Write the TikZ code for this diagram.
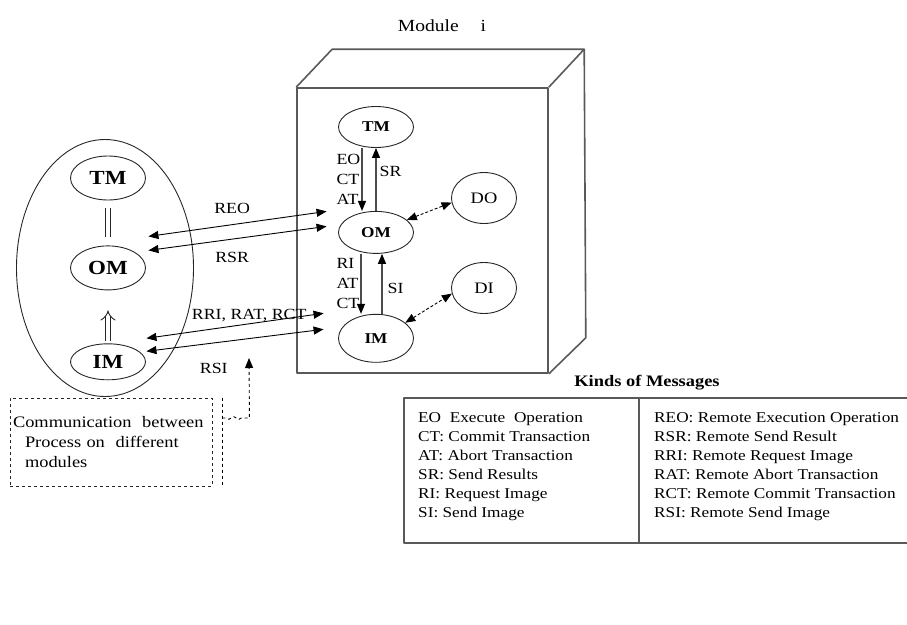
\documentclass[tikz,border=0pt]{standalone}
\usepackage{fontspec}
\setmainfont{Liberation Serif}[FakeStretch=1.15]
\usetikzlibrary{shapes.geometric, arrows.meta, positioning}
\tikzset{
    base/.style = {draw=black!85, line width=0.9pt, ellipse, inner sep=0pt, text centered},
    % Components
    group/.style   = {base, minimum width=177pt, minimum height=257pt},
    procbig/.style = {base, minimum width=75pt, minimum height=44pt, font=\fontsize{20}{24}\selectfont\bfseries},
    proc/.style    = {base, minimum width=75pt, minimum height=41pt, font=\fontsize{15}{18}\selectfont\bfseries},
    store/.style   = {base, minimum width=65pt, minimum height=51pt, font=\fontsize{16}{19}\selectfont},
    cubeedge/.style  = {draw=black!65, line width=1.6pt, line join=round},
    cube/.style      = {cubeedge, rectangle, inner sep=0pt},
    legendbox/.style = {cubeedge, rectangle, inner sep=0pt},
    notebox/.style   = {draw=black!85, line width=0.9pt, dashed, rectangle, align=left, inner xsep=2pt, inner ysep=0pt, text width=196pt, font=\fontsize{16}{20}\selectfont},
    % Edges and annotations
    flow/.style    = {draw=black!70, line width=1.3pt, -{Triangle[length=10pt, width=8pt, color=black]}},
    remote/.style  = {line width=0.9pt, <->},
    dlink/.style   = {line width=0.9pt, densely dashed, <->},
    bond/.style    = {draw=black!85, line width=0.9pt, double=white, double distance=4.5pt, shorten <=8pt, shorten >=8pt},
    lift/.style    = {draw=black!85, line width=0.9pt, double=white, double distance=4.5pt, -{Implies}, shorten <=2pt, shorten >=20pt},
    pointer/.style = {line width=0.9pt, dashed},
    annotation/.style = {font=\fontsize{15.5}{20}\selectfont, inner sep=1pt, align=left},
    heading/.style    = {font=\fontsize{16}{19}\selectfont\bfseries},
    legendtext/.style = {font=\fontsize{15}{19}\selectfont, align=left, inner sep=0pt, anchor=north west}
}

\begin{document}
\begin{tikzpicture}[x=1pt, y=-1pt, >={Triangle[length=10pt, width=8pt]}]
    \useasboundingbox (0,0) rectangle (907,624);

    % processes on another module
    \node (group) [group] at (105,268) {};
    \node (tmL) [procbig] at (108,178) {TM};
    \node (omL) [procbig, below=45pt of tmL] {OM};
    \node (imL) [procbig, minimum height=36pt, below=53pt of omL] {IM};
    \draw [bond] (tmL) -- (omL);
    \draw [lift] (imL) -- (omL);

    % module i
    \node (title) [font=\fontsize{17}{20}\selectfont] at (442,26) {Module\hspace{22pt}i};
    \node (module) [cube, minimum width=251pt, minimum height=285pt] at (422.5,230.5) {};
    \draw [cubeedge] (module.north west) -- ++(36,-38) -- ++(252,0) -- (module.north east);
    \draw [cubeedge] ([shift={(288,-38)}]module.north west) -- ([shift={(37,-36)}]module.south east) -- (module.south east);

    \node (tmR) [proc] at (376,127) {TM};
    \node (omR) [proc, minimum height=42pt, below=63pt of tmR] {OM};
    \node (imR) [proc, minimum height=48pt, below=60pt of omR] {IM};
    \node (doR) [store] at (484,198) {DO};
    \node (diR) [store] at (484,288) {DI};

    \draw [flow] ([xshift=-14pt]tmR.south) -- node[left, annotation] {EO\\CT\\AT} ([xshift=-14pt]omR.north);
    \draw [flow] (omR.north) -- node[right=2pt, annotation, pos=.63] {SR} (tmR.south);
    \draw [flow] ([xshift=-15pt]omR.south) -- node[left, annotation] {RI\\AT\\CT} ([xshift=-15pt]imR.north);
    \draw [flow] ([xshift=6pt]imR.north) -- node[right=4pt, annotation, pos=.42] {SI} ([xshift=6pt]omR.south);
    \draw [dlink] (omR.22) -- (doR.188);
    \draw [dlink] (imR.28) -- (diR.190);

    % remote messages
    \draw [remote] ([shift={(2.5,-31.5)}]omL.east) -- node[above=10pt, annotation, pos=.47] {REO} ([shift={(-11.5,-21)}]omR.west);
    \draw [remote] ([shift={(2.5,-17.5)}]omL.east) -- node[below=12pt, annotation, pos=.47] {RSR} ([shift={(-11.5,-6)}]omR.west);
    \draw [remote] ([shift={(0.5,-23.5)}]imL.east) -- node[above=0pt, annotation, pos=.58] {RRI, RAT, RCT} ([shift={(-14.5,-25)}]imR.west);
    \draw [remote] ([shift={(0.5,-10.5)}]imL.east) -- node[below=19pt, annotation, pos=.38] {RSI} ([shift={(-14.5,-9)}]imR.west);

    % note
    \node (note) [notebox, minimum width=202pt, minimum height=88pt] at (111,442) {Communication\ \ between\\\hspace{12pt}Process on\ \ different\\\hspace{12pt}modules};
    \coordinate (target) at (249,358);
    \draw [pointer] ([xshift=10pt]note.north east) -- ([xshift=10pt]note.south east);
    \draw [pointer, ->] ([shift={(10,-24)}]note.east) -- ++(4,0) to[out=-60, in=-120] ++(5,0) to[out=60, in=120] ++(5,0) to[out=-60, in=-120] ++(5,0) -- ++(8,0) -- (target);

    % kinds of messages
    \node (kinds) [heading] at (647,383) {Kinds of Messages};
    \node (legend) [legendbox, minimum width=508pt, minimum height=145pt] at (658,470.5) {};
    \draw [cubeedge] ([xshift=-19pt]legend.north) -- ([xshift=-19pt]legend.south);
    \node (localkeys) [legendtext] at (418,412) {EO\ \ Execute\ \ Operation\\CT: Commit Transaction\\AT: Abort Transaction\\SR: Send Results\\RI: Request Image\\SI: Send Image};
    \node (remotekeys) [legendtext] at (654,412) {REO: Remote Execution Operation\\RSR: Remote Send Result\\RRI: Remote Request Image\\RAT: Remote Abort Transaction\\RCT: Remote Commit Transaction\\RSI: Remote Send Image};
\end{tikzpicture}
\end{document}
